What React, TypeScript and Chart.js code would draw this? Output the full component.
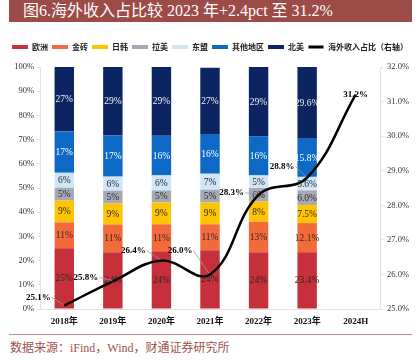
import React, { useEffect, useRef } from "react";
import { Chart, registerables } from "chart.js";

Chart.register(...registerables);

const categories = ["2018年", "2019年", "2020年", "2021年", "2022年", "2023年", "2024H"];
const europe = [25.1, 23.5, 23.9, 24.3, 23.5, 23.4, null];
const brics = [10.7, 11.4, 11.1, 10.7, 12.6, 12.1, null];
const japanKorea = [9.0, 8.7, 9.0, 9.0, 8.3, 7.5, null];
const latinAmerica = [5.3, 5.3, 5.0, 5.3, 5.6, 6.0, null];
const asean = [6.2, 5.8, 6.2, 6.6, 5.2, 5.6, null];
const otherRegions = [17.0, 17.0, 16.4, 16.4, 16.2, 15.8, null];
const northAmerica = [26.7, 28.6, 28.5, 27.4, 28.6, 29.6, null];
const overseasShare = [25.1, 25.8, 26.4, 26.0, 28.3, 28.8, 31.2];
const labelDecimals = [0, 0, 0, 0, 0, 1, 0];
const leftTicks = [0, 10, 20, 30, 40, 50, 60, 70, 80, 90, 100];
const rightTicks = [25, 26, 27, 28, 29, 30, 31, 32];

const seriesNames = ["欧洲", "金砖", "日韩", "拉美", "东盟", "其他地区", "北美"];
const seriesData = [europe, brics, japanKorea, latinAmerica, asean, otherRegions, northAmerica];
const seriesColors = ["#C6303A", "#F36A3B", "#FFC402", "#A7AAB4", "#CFE5FA", "#0E69C6", "#0D2462"];
const labelColors = ["#2a2a2a", "#2a2a2a", "#2a2a2a", "#2a2a2a", "#2a2a2a", "#ffffff", "#f0f0f0"];
const lineLabelOffsets = [
  { dx: -26, dy: -8 },
  { dx: -27, dy: -4 },
  { dx: -28, dy: -10 },
  { dx: -30, dy: -24 },
  { dx: -27, dy: -2 },
  { dx: -25, dy: -11 },
  { dx: 0, dy: 0 },
];

const SERIF = '"Liberation Serif", "Noto Sans CJK SC", serif';
const CJK = '"Noto Sans CJK SC", "Liberation Serif", sans-serif';

const legendSpacePlugin = {
  id: "legendSpace",
  beforeLayout(chart: any) {
    const lg = chart.legend;
    if (lg && !lg.__patched) {
      const orig = lg.fit;
      lg.fit = function () {
        orig.call(this);
        this.height += 6;
      };
      lg.__patched = true;
    }
  },
};

const barLabelPlugin = {
  id: "barLabels",
  afterDatasetsDraw(chart: any) {
    const ctx = chart.ctx;
    ctx.save();
    ctx.font = `9.5px ${SERIF}`;
    ctx.textAlign = "center";
    ctx.textBaseline = "middle";
    for (let d = 0; d < seriesData.length; d++) {
      const meta = chart.getDatasetMeta(d);
      meta.data.forEach((el: any, i: number) => {
        const v = seriesData[d][i];
        if (v == null) return;
        const txt = (labelDecimals[i] ? v.toFixed(labelDecimals[i]) : String(Math.round(v))) + "%";
        ctx.fillStyle = labelColors[d];
        ctx.fillText(txt, el.x, (el.y + el.base) / 2 + 0.5);
      });
    }
    ctx.restore();
  },
};

const lineLabelPlugin = {
  id: "lineLabels",
  afterDatasetsDraw(chart: any) {
    const ctx = chart.ctx;
    const meta = chart.getDatasetMeta(seriesData.length);
    ctx.save();
    ctx.font = `bold 9px ${SERIF}`;
    ctx.textAlign = "center";
    ctx.textBaseline = "middle";
    meta.data.forEach((pt: any, i: number) => {
      const off = lineLabelOffsets[i];
      const txt = overseasShare[i].toFixed(1) + "%";
      const w = ctx.measureText(txt).width;
      const cx = pt.x + off.dx;
      const cy = pt.y + off.dy;
      if (off.dx !== 0) {
        ctx.strokeStyle = "#9a9a9a";
        ctx.lineWidth = 0.8;
        ctx.beginPath();
        ctx.moveTo(cx + w / 2 + 1, cy);
        ctx.lineTo(pt.x - 1, pt.y - 1);
        ctx.stroke();
      }
      ctx.fillStyle = "#000";
      ctx.fillText(txt, cx, cy);
    });
    ctx.restore();
  },
};

export default function App() {
  const ref = useRef<HTMLCanvasElement>(null);
  useEffect(() => {
    if (!ref.current) return;
    const datasets: any[] = seriesNames.map((name, k) => ({
      type: "bar",
      label: name,
      data: seriesData[k],
      backgroundColor: seriesColors[k],
      borderWidth: 0,
      stack: "s",
      yAxisID: "y",
      categoryPercentage: 1,
      barPercentage: 0.4,
      order: 1,
    }));
    datasets.push({
      type: "line",
      label: "海外收入占比（右轴）",
      data: overseasShare,
      borderColor: "#000",
      backgroundColor: "#000",
      borderWidth: 2.5,
      pointRadius: 0,
      tension: 0.4,
      yAxisID: "y1",
      order: 0,
    });
    const chart = new Chart(ref.current, {
      type: "bar",
      data: { labels: categories, datasets },
      plugins: [legendSpacePlugin, barLabelPlugin, lineLabelPlugin],
      options: {
        animation: false,
        responsive: false,
        maintainAspectRatio: false,
        layout: { padding: { top: 9, left: 0, right: 0, bottom: 0 } },
        plugins: {
          legend: {
            display: true,
            position: "top",
            labels: {
              boxWidth: 16,
              boxHeight: 4,
              padding: 4,
              color: "#222",
              font: { family: CJK, size: 8, weight: "bold" },
              sort: (a: any, b: any) => a.datasetIndex - b.datasetIndex,
              generateLabels: (chart: any) => {
                const items = Chart.defaults.plugins.legend.labels.generateLabels(chart);
                items.forEach((it: any) => {
                  if (it.datasetIndex === seriesData.length) {
                    it.fillStyle = "#000";
                    it.strokeStyle = "#fff";
                    it.lineWidth = 1;
                  } else {
                    it.lineWidth = 0;
                  }
                });
                return items;
              },
            },
          },
          tooltip: { enabled: false },
        },
        scales: {
          x: {
            stacked: true,
            offset: true,
            grid: { display: false, drawTicks: false },
            border: { display: true, color: "#e2e2e2" },
            ticks: {
              color: "#111",
              padding: 7,
              font: { family: SERIF, size: 9, weight: "bold" },
              maxRotation: 0,
            },
            afterFit: (s: any) => {
              s.height = 23;
            },
          },
          y: {
            stacked: true,
            position: "left",
            min: 0,
            max: 100,
            afterBuildTicks: (s: any) => {
              s.ticks = leftTicks.map((v) => ({ value: v }));
            },
            grid: { drawOnChartArea: false, color: "#e2e2e2", tickLength: 3 },
            border: { display: true, color: "#e2e2e2" },
            ticks: {
              color: "#333",
              padding: 3,
              font: { family: SERIF, size: 8.5 },
              callback: (v: any) => v + "%",
            },
            afterFit: (s: any) => {
              s.width = 40;
            },
          },
          y1: {
            position: "right",
            min: 25,
            max: 32,
            afterBuildTicks: (s: any) => {
              s.ticks = rightTicks.map((v) => ({ value: v }));
            },
            grid: { drawOnChartArea: false, color: "#e2e2e2", tickLength: 3 },
            border: { display: true, color: "#e2e2e2" },
            ticks: {
              color: "#333",
              padding: 4,
              font: { family: SERIF, size: 8.5 },
              callback: (v: any) => Number(v).toFixed(1) + "%",
            },
            afterFit: (s: any) => {
              s.width = 40;
            },
          },
        },
      },
    } as any);
    return () => chart.destroy();
  }, []);

  return (
    <div style={{ position: "absolute", left: 0, top: 0, width: 420, height: 364, background: "#fff", overflow: "hidden" }}>
      <div
        style={{
          position: "absolute",
          left: 9,
          top: 0,
          width: 403,
          height: 22,
          background: "#9C4B46",
          color: "#fff",
          fontFamily: SERIF,
          fontSize: 16,
          lineHeight: "22px",
          paddingLeft: 14,
          boxSizing: "border-box",
          whiteSpace: "nowrap",
        }}
      >
        图6.海外收入占比较 2023 年+2.4pct 至 31.2%
      </div>
      <canvas ref={ref} width={420} height={302} style={{ position: "absolute", left: 0, top: 30, width: 420, height: 302 }} />
      <div style={{ position: "absolute", left: 9, top: 334, width: 403, height: 1, background: "#C58A86" }} />
      <div
        style={{
          position: "absolute",
          left: 10,
          top: 340,
          fontFamily: SERIF,
          fontSize: 12,
          color: "#A1524D",
          whiteSpace: "nowrap",
          lineHeight: "16px",
        }}
      >
        数据来源：iFind，Wind，财通证券研究所
      </div>
    </div>
  );
}
